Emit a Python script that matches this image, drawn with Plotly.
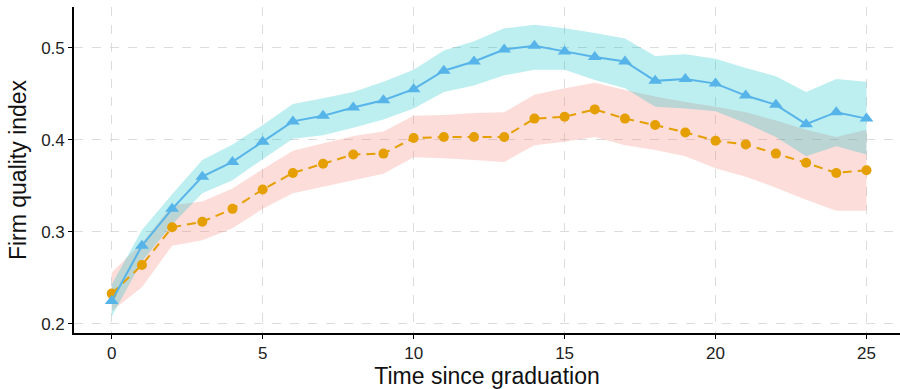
import plotly.graph_objects as go

# ---- data ----
t = list(range(26))

blue_mean = [0.225, 0.285, 0.325, 0.360, 0.376, 0.398, 0.420, 0.426, 0.435, 0.443,
             0.455, 0.475, 0.485, 0.498, 0.502, 0.496, 0.490, 0.485, 0.464, 0.466,
             0.461, 0.448, 0.438, 0.417, 0.430, 0.423]
blue_upper = [0.243, 0.302, 0.341, 0.378, 0.395, 0.416, 0.439, 0.445, 0.452, 0.463,
              0.476, 0.497, 0.507, 0.521, 0.525, 0.521, 0.516, 0.510, 0.491, 0.493,
              0.488, 0.478, 0.469, 0.452, 0.466, 0.463]
blue_lower = [0.208, 0.268, 0.308, 0.342, 0.356, 0.379, 0.401, 0.405, 0.413, 0.422,
              0.434, 0.452, 0.459, 0.470, 0.476, 0.476, 0.465, 0.456, 0.436, 0.434,
              0.431, 0.418, 0.403, 0.382, 0.393, 0.384]

red_mean = [0.233, 0.264, 0.305, 0.311, 0.325, 0.346, 0.364, 0.374, 0.384, 0.385,
            0.402, 0.403, 0.403, 0.403, 0.423, 0.425, 0.433, 0.423, 0.416, 0.408,
            0.399, 0.395, 0.385, 0.375, 0.364, 0.367]
red_upper = [0.256, 0.288, 0.329, 0.333, 0.347, 0.368, 0.388, 0.396, 0.404, 0.409,
             0.426, 0.427, 0.429, 0.430, 0.449, 0.456, 0.462, 0.454, 0.447, 0.441,
             0.436, 0.430, 0.421, 0.411, 0.403, 0.411]
red_lower = [0.214, 0.240, 0.285, 0.291, 0.304, 0.325, 0.342, 0.349, 0.356, 0.363,
             0.381, 0.380, 0.378, 0.376, 0.394, 0.398, 0.403, 0.394, 0.389, 0.382,
             0.369, 0.360, 0.348, 0.335, 0.323, 0.323]

x_ticks = [0, 5, 10, 15, 20, 25]
y_ticks = [0.2, 0.3, 0.4, 0.5]
y_tick_labels = ["0.2", "0.3", "0.4", "0.5"]

BLUE = "#56B4E9"
ORANGE = "#E69F00"
TEAL_FILL = "rgba(0,191,196,0.26)"
RED_FILL = "rgba(248,118,109,0.25)"
FONT = "Liberation Sans, Arial, Helvetica, sans-serif"

fig = go.Figure()

# ribbons
fig.add_trace(go.Scatter(
    x=t + t[::-1], y=red_upper + red_lower[::-1],
    fill="toself", fillcolor=RED_FILL, line=dict(width=0),
    mode="lines", hoverinfo="skip", showlegend=False))
fig.add_trace(go.Scatter(
    x=t + t[::-1], y=blue_upper + blue_lower[::-1],
    fill="toself", fillcolor=TEAL_FILL, line=dict(width=0),
    mode="lines", hoverinfo="skip", showlegend=False))

# lines
fig.add_trace(go.Scatter(
    x=t, y=red_mean, mode="lines+markers",
    line=dict(color=ORANGE, width=2, dash="9px,6px"),
    marker=dict(symbol="circle", size=10, color=ORANGE),
    showlegend=False))
fig.add_trace(go.Scatter(
    x=t, y=blue_mean, mode="lines+markers",
    line=dict(color=BLUE, width=2),
    marker=dict(symbol="triangle-up", size=12, color=BLUE),
    showlegend=False))

axis_common = dict(
    showline=True, linecolor="black", linewidth=1.6,
    ticks="outside", ticklen=4, tickwidth=1.3, tickcolor="black",
    showgrid=True, gridcolor="#DCDCDC", gridwidth=1.2, griddash="dash",
    zeroline=False, mirror=False,
    tickfont=dict(family=FONT, size=17, color="#222222"),
)

fig.update_layout(
    width=900, height=389,
    margin=dict(l=74, r=0, t=7, b=56),
    plot_bgcolor="white", paper_bgcolor="white",
    font=dict(family=FONT, color="#111111"),
    xaxis=dict(range=[-1.25, 26.11], tickvals=x_ticks,
               title=dict(text="Time since graduation",
                          font=dict(family=FONT, size=23, color="#111111"),
                          standoff=8),
               **axis_common),
    yaxis=dict(range=[0.1902, 0.5442], tickvals=y_ticks, ticktext=y_tick_labels,
               title=dict(text="Firm quality index",
                          font=dict(family=FONT, size=23, color="#111111"),
                          standoff=8),
               **axis_common),
)

fig.write_html("out.html")
